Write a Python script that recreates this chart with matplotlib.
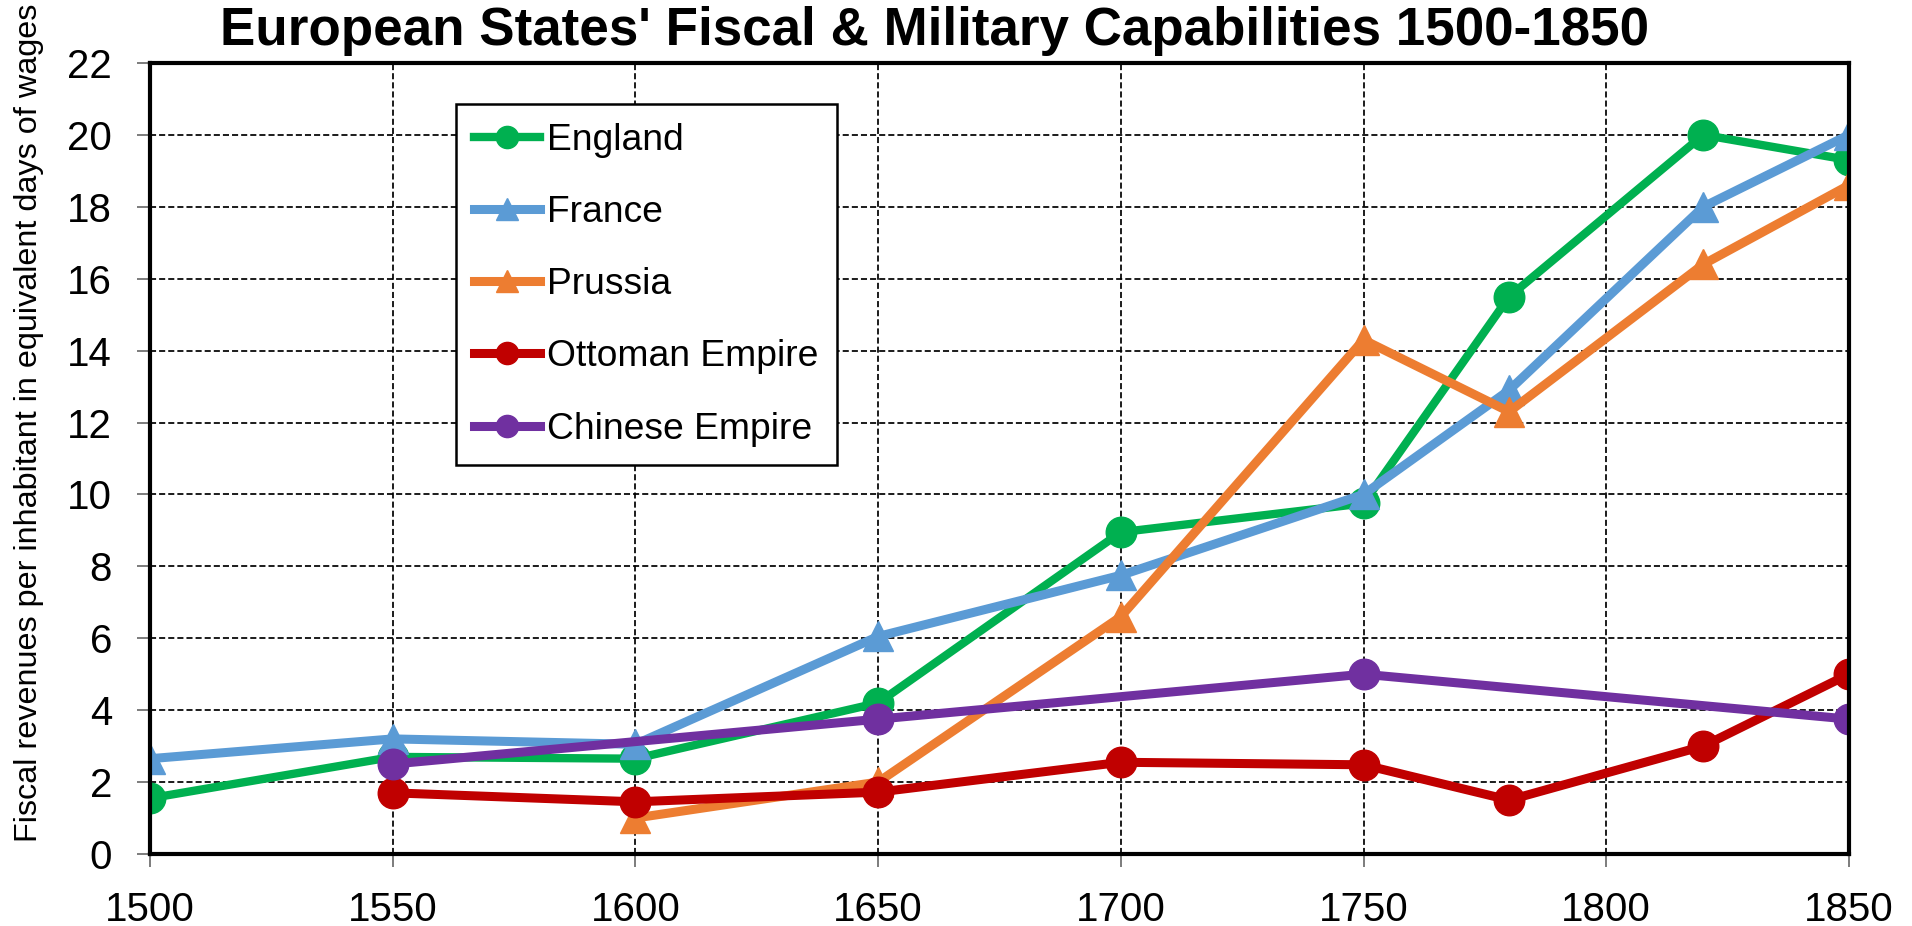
import numpy as np
import matplotlib
matplotlib.use('Agg')
import matplotlib.pyplot as plt

plt.rcParams['font.family'] = ['Liberation Sans', 'DejaVu Sans']

# data
yr_eng = [1500, 1550, 1600, 1650, 1700, 1750, 1780, 1820, 1850]
england = [1.55, 2.7, 2.65, 4.2, 8.95, 9.75, 15.5, 20.0, 19.3]

yr_fra = [1500, 1550, 1600, 1650, 1700, 1750, 1780, 1820, 1850]
france = [2.65, 3.2, 3.05, 6.05, 7.75, 10.0, 12.9, 18.0, 20.0]

yr_pru = [1600, 1650, 1700, 1750, 1780, 1820, 1850]
prussia = [1.0, 2.0, 6.6, 14.3, 12.3, 16.4, 18.6]

yr_ott = [1550, 1600, 1650, 1700, 1750, 1780, 1820, 1850]
ottoman = [1.7, 1.45, 1.72, 2.55, 2.48, 1.5, 3.0, 5.0]

yr_chi = [1550, 1650, 1750, 1850]
chinese = [2.5, 3.75, 5.0, 3.75]

FS = 29
LW = 6.5
MS = 22

fig = plt.figure(figsize=(19.12, 9.26), dpi=100)
ax = fig.add_axes([0.0785, 0.0778, 0.8885, 0.8542])

ax.plot(yr_eng, england, color='#00B050', lw=LW - 0.5, marker='o', ms=MS, label='England')
ax.plot(yr_fra, france, color='#5B9BD5', lw=LW, marker='^', ms=MS, label='France')
ax.plot(yr_pru, prussia, color='#ED7D31', lw=LW, marker='^', ms=MS, label='Prussia')
ax.plot(yr_ott, ottoman, color='#C00000', lw=LW, marker='o', ms=MS, label='Ottoman Empire')
ax.plot(yr_chi, chinese, color='#7030A0', lw=LW, marker='o', ms=MS, label='Chinese Empire')

ax.set_xlim(1500, 1850)
ax.set_ylim(0, 22)
ax.set_xticks(np.arange(1500, 1851, 50))
ax.set_yticks(np.arange(0, 23, 2))
ax.grid(True, color='black', linestyle=(0, (3.5, 1.75)), linewidth=1.25)
ax.set_axisbelow(True)
for sp in ax.spines.values():
    sp.set_linewidth(3)
    sp.set_color('black')
ax.tick_params(axis='both', labelsize=FS, length=9.5, width=1.2, direction='out', color='#666666')
ax.tick_params(axis='x', pad=17)
ax.tick_params(axis='y', pad=18)

ax.set_ylabel('Fiscal revenues per inhabitant in equivalent days of wages', fontsize=23.3)
ax.yaxis.set_label_coords(-0.0624, 0.545)
fig.text(0.489, 0.967, "European States' Fiscal & Military Capabilities 1500-1850",
         fontsize=38.2, fontweight='bold', ha='center', va='center')

leg = ax.legend(loc='upper left', bbox_to_anchor=(0.18, 0.948), fontsize=26.8, frameon=True,
                fancybox=False, borderaxespad=0, labelspacing=1.0, handlelength=1.75,
                handletextpad=0.2, borderpad=0.5)
leg.get_frame().set_edgecolor('black')
leg.get_frame().set_linewidth(1.8)
leg.get_frame().set_alpha(1)
for h in leg.legend_handles:
    h.set_markersize(16)

fig.savefig('out.png', dpi=100)
